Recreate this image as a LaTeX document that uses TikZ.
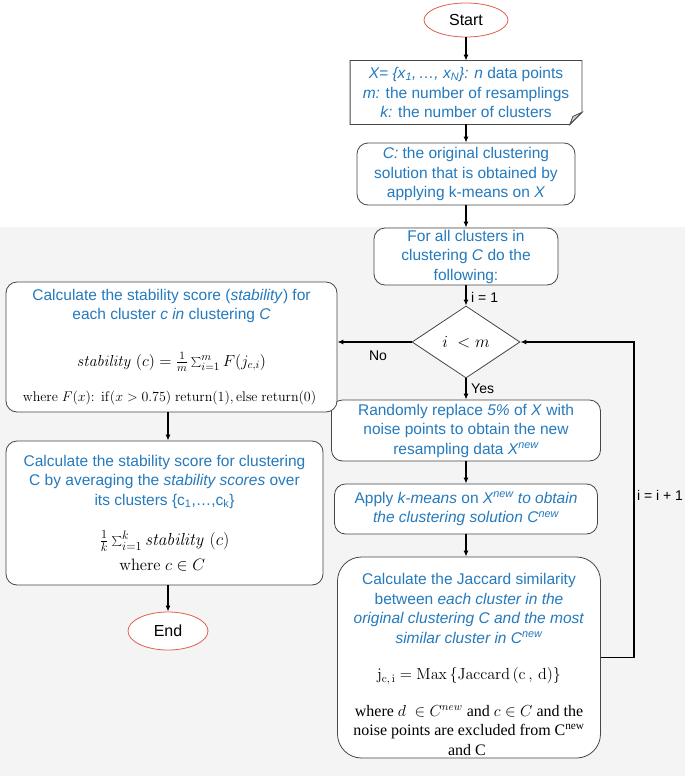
\RequirePackage{fix-cm}
\documentclass[tikz,border=0pt]{standalone}
\usepackage[no-math]{fontspec}
\setmainfont{Liberation Sans}
\newfontfamily\serifrm{Liberation Serif}
\usetikzlibrary{arrows.meta,positioning,shapes.geometric}
\definecolor{stepblue}{RGB}{36,122,190}
\definecolor{termred}{RGB}{224,96,80}
\definecolor{edgegray}{RGB}{70,70,70}
\definecolor{bggray}{RGB}{244,244,244}

\begin{document}
\begin{tikzpicture}[
  x=1pt,y=-1pt,
  flow/.style={-{Latex[length=6pt,width=5pt]},line width=1.6pt},
  term/.style={ellipse,draw=termred,thick,fill=white,inner sep=0,font=\fontsize{16}{19}\selectfont},
  process/.style={
    rectangle,
    rounded corners=11pt,
    draw=edgegray,
    thick,
    fill=white,
    align=center,
    inner sep=0,
    text=stepblue,
    font=\fontsize{15.5}{19.5}\selectfont
  },
  decision/.style={diamond,draw=edgegray,thick,fill=white,inner sep=0,font=\fontsize{17}{19}\selectfont},
  tag/.style={inner sep=0,font=\fontsize{14}{17}\selectfont}
]
\useasboundingbox (0,0) rectangle (685,776);
\fill[bggray] (0,227) rectangle (685,776);

\node[term,minimum width=84,minimum height=34] (start) at (466,20) {Start};

\node[process,rounded corners=0pt,draw=none,minimum width=231,minimum height=63] (data) at (466,92.5)
{
  \textit{X= \{x\textsubscript{1},\,…, x\textsubscript{N}\}:} \textit{n} data points\\
  \textit{m:} the number of resamplings\\
  \textit{k:} the number of clusters
};
\draw[edgegray,thick] (data.north west) -- (data.north east) -- ([yshift=12pt]data.south east)
  -- ([xshift=-12pt]data.south east) -- (data.south west) -- cycle;
\filldraw[edgegray,thick,fill=gray!35] ([yshift=12pt]data.south east) -- ([xshift=-12pt]data.south east)
  -- ([xshift=-9pt,yshift=8pt]data.south east) -- cycle;

\node[process,minimum width=218,minimum height=62] (orig) at (466,174)
{
  \textit{C:} the original clustering\\
  solution that is obtained by\\
  applying k-means on \textit{X}
};

\node[process,minimum width=184,minimum height=57] (forall) at (466,256.5)
{
  For all clusters in\\
  clustering \textit{C} do the\\
  following:
};

\node[decision,minimum width=108,minimum height=72] (test) at (466,342) {$i\ < m$};

\node[process,minimum width=269,minimum height=61] (resample) at (466,430.5)
{
  Randomly replace \textit{5\%} of \textit{X} with\\
  noise points to obtain the new\\
  resampling data \textit{X\textsuperscript{new}}
};

\node[process,minimum width=263,minimum height=50] (apply) at (466,509)
{
  Apply \textit{k-means} on \textit{X\textsuperscript{new} to obtain}\\
  \textit{the clustering solution C\textsuperscript{new}}
};

\node[process,rounded corners=24pt,minimum width=263,minimum height=201] (jacc) at (469,657.5)
{
  \rule{0pt}{25pt}Calculate the Jaccard similarity\\
  between \textit{each cluster in the}\\
  \textit{original clustering C and the most}\\
  \textit{similar cluster in C\textsuperscript{new}}\\[17pt]
  \color{black}\fontsize{16}{19.5}\selectfont$\mathrm{j}_{\mathrm{c,\,i}} = \mathrm{Max}\,\{\mathrm{Jaccard}\,(\mathrm{c}\,,\,\mathrm{d})\}$\\[17pt]
  \color{black}\serifrm\fontsize{16}{19.5}\selectfont where $d\ \in C^{new}$ and $c \in C$ and the\\
  \color{black}\serifrm\fontsize{16}{19.5}\selectfont noise points are excluded from C\textsuperscript{new}\\
  \color{black}\serifrm\fontsize{16}{19.5}\selectfont and C
};

\node[process,minimum width=331,minimum height=130] (stab) at (171.5,347)
{
  Calculate the stability score (\textit{stability}) for\\
  each cluster \textit{c in} clustering \textit{C}\\[27pt]
  \color{black}\fontsize{16}{19.5}\selectfont$\mathit{stability}\ (c) = \frac{1}{m}\sum_{i=1}^{m} F(j_{c,i})$\\[16pt]
  \color{black}\fontsize{14}{17}\selectfont$\mathrm{where}\ F(x)\colon\ \mathrm{if}(x > 0.75)\ \mathrm{return}(1),\mathrm{else}\ \mathrm{return}(0)$
};

\node[process,minimum width=317,minimum height=144] (avg) at (164.5,513)
{
  Calculate the stability score for clustering\\
  C by averaging the \textit{stability scores} over\\
  its clusters \{c\textsubscript{1},…,c\textsubscript{k}\}\\[21pt]
  \color{black}\fontsize{17.5}{19.5}\selectfont$\frac{1}{k}\sum_{i=1}^{k}\mathit{stability}\ (c)$\\[5pt]
  \color{black}\fontsize{16.5}{19.5}\selectfont$\mathrm{where}\ c \in C$
};

\node[term,minimum width=80,minimum height=38] (stop) at (168,631) {End};

\coordinate (back) at (634,342);

\draw[flow] (start) -- (data);
\draw[flow] (data.south -| orig) -- (orig);
\draw[flow] (orig) -- (forall);
\draw[flow] (forall) -- (test);
\draw[flow] (test) -- (resample);
\draw[flow] (resample) -- (apply);
\draw[flow] (apply) -- (apply.south |- jacc.north);
\draw[flow] (jacc.east) -| (back) -- (test.east);
\draw[flow] (test.west) -- (test.west -| stab.east);
\draw[flow] (stop |- stab.south) -- (stop |- avg.north);
\draw[flow] (stop |- avg.south) -- (stop);

\node[tag,anchor=west] (init) at (471,297) {i = 1};
\node[tag,anchor=west] (yes) at (471,389) {Yes};
\node[tag] (no) at (378,356) {No};
\node[tag] (incr) at (660,495) {i = i + 1};
\end{tikzpicture}
\end{document}
